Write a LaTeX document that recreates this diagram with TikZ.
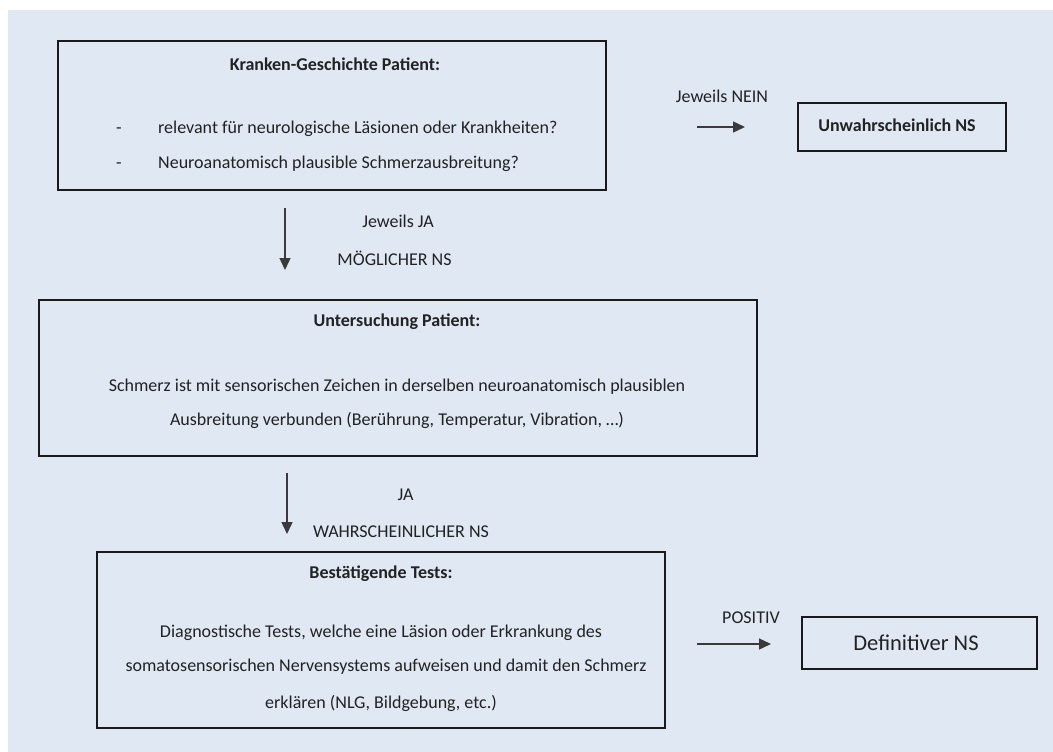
\documentclass[tikz,border=0pt]{standalone}
\usepackage{fontspec}
\setmainfont{Carlito}
\usetikzlibrary{arrows.meta}
\definecolor{bgblue}{HTML}{DFE8F3}
\definecolor{boxline}{HTML}{1A1A1A}
\definecolor{txt}{HTML}{222222}
\definecolor{arrline}{HTML}{3A3A3A}
\tikzset{
  box/.style={draw=boxline, line width=2.7pt, rectangle, inner sep=0pt},
  lbl/.style={text=txt, inner sep=0pt, font=\fontsize{18}{21}\selectfont},
  ttl/.style={text=txt, inner sep=0pt, font=\fontsize{18}{21}\selectfont\bfseries},
  arr/.style={draw=arrline, line width=1.4pt, -{Triangle[length=12pt,width=11pt]}},
}
\begin{document}
\begin{tikzpicture}[x=1pt,y=-1pt]
\useasboundingbox (0,0) rectangle (1053,752);
\fill[bgblue] (8,10) rectangle (1053,752);
% boxes
\node[box, minimum width=548pt, minimum height=149pt] (b1) at (332,115.5) {};
\node[box, minimum width=208pt, minimum height=48pt] (bu) at (902,127) {};
\node[box, minimum width=718pt, minimum height=156pt] (b2) at (398,378) {};
\node[box, minimum width=568pt, minimum height=176pt] (b3) at (381,640) {};
\node[box, minimum width=235pt, minimum height=52pt] (bd) at (919.5,643) {};
% texts box 1
\node[ttl] (t1) at (335,64) {Kranken-Geschichte Patient:};
\node[lbl, anchor=base] (d1) at (119,133) {-};
\node[lbl, anchor=base west] (l1) at (158,133) {relevant für neurologische Läsionen oder Krankheiten?};
\node[lbl, anchor=base] (d2) at (119,168) {-};
\node[lbl, anchor=base west] (l2) at (158,168) {Neuroanatomisch plausible Schmerzausbreitung?};
% unwahrscheinlich
\node[ttl] (tu) at (897,125) {Unwahrscheinlich NS};
\node[lbl] (jn) at (722,96) {Jeweils NEIN};
\coordinate (n1) at (697,127);
\coordinate (n2) at (745,127);
\draw[arr] (n1) -- (n2);
% arrow 1
\coordinate (a1s) at (285,208);
\coordinate (a1e) at (285,270);
\draw[arr] (a1s) -- (a1e);
\node[lbl] (ja1) at (398,221) {Jeweils JA};
\node[lbl] (mn) at (394.5,258) {MÖGLICHER NS};
% box 2
\node[ttl] (t2) at (397,322) {Untersuchung Patient:};
\node[lbl] (s1) at (397,387) {Schmerz ist mit sensorischen Zeichen in derselben neuroanatomisch plausiblen};
\node[lbl] (s2) at (397,420) {Ausbreitung verbunden (Berührung, Temperatur, Vibration, …)};
% arrow 2
\coordinate (a2s) at (287,473);
\coordinate (a2e) at (287,534);
\draw[arr] (a2s) -- (a2e);
\node[lbl] (ja2) at (405.5,495) {JA};
\node[lbl] (wn) at (401,532) {WAHRSCHEINLICHER NS};
% box 3
\node[ttl] (t3) at (381,574) {Bestätigende Tests:};
\node[lbl] (c1) at (381,633) {Diagnostische Tests, welche eine Läsion oder Erkrankung des};
\node[lbl] (c2) at (386,667) {somatosensorischen Nervensystems aufweisen und damit den Schmerz};
\node[lbl] (c3) at (381,703) {erklären (NLG, Bildgebung, etc.)};
% positiv
\node[lbl] (pos) at (751,618) {POSITIV};
\coordinate (p1) at (697,644);
\coordinate (p2) at (771,644);
\draw[arr] (p1) -- (p2);
\node[lbl, font=\fontsize{22.5}{26}\selectfont] (td) at (916,643) {Definitiver NS};
\end{tikzpicture}
\end{document}
